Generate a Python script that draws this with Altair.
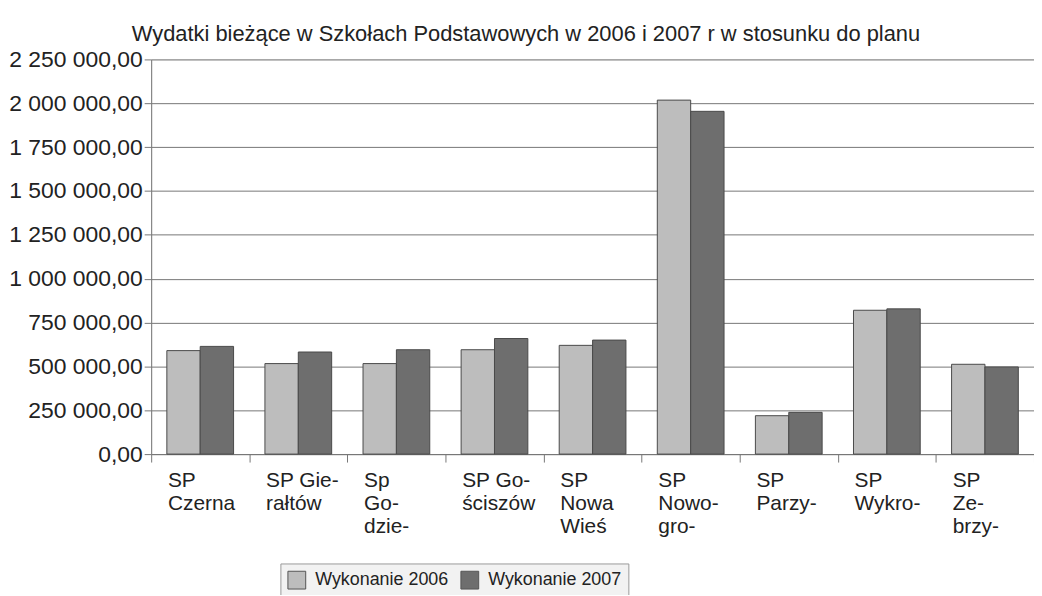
import altair as alt
import pandas as pd

categories = ["SP|Czerna", "SP Gie-|rałtów", "Sp|Go-|dzie-", "SP Go-|ściszów", "SP|Nowa|Wieś",
              "SP|Nowo-|gro-", "SP|Parzy-", "SP|Wykro-", "SP|Ze-|brzy-"]
series = ["Wykonanie 2006", "Wykonanie 2007"]
values_2006 = [590000, 516000, 516000, 595000, 620000, 2018000, 219000, 820000, 512000]
values_2007 = [614000, 582000, 595000, 659000, 650000, 1954000, 238000, 828000, 497000]
y_ticks = [0, 250000, 500000, 750000, 1000000, 1250000, 1500000, 1750000, 2000000, 2250000]

rows = []
for c, a, b in zip(categories, values_2006, values_2007):
    rows.append({"cat": c, "series": series[0], "value": a})
    rows.append({"cat": c, "series": series[1], "value": b})
df = pd.DataFrame(rows)

FONT = "Liberation Sans"

chart = alt.Chart(df).mark_bar(stroke="#4a4a4a", strokeWidth=1).encode(
    x=alt.X("cat:N", sort=categories, title=None,
            scale=alt.Scale(paddingInner=0, paddingOuter=0),
            axis=alt.Axis(tickBand="extent", labelAngle=0, labelAlign="left", labelBaseline="top",
                          labelOffset=-33, labelPadding=8, tickSize=8, tickColor="#777",
                          domainColor="#777", labelFontSize=21, labelColor="#222",
                          labelFont=FONT, labelLineHeight=23, labelLimit=0,
                          labelExpr="split(datum.label, '|')", grid=False)),
    xOffset=alt.XOffset("series:N", sort=series,
                        scale=alt.Scale(paddingInner=0, paddingOuter=0.47)),
    y=alt.Y("value:Q", title=None,
            scale=alt.Scale(domain=[0, 2250000], nice=False),
            axis=alt.Axis(values=y_ticks, tickSize=7, tickColor="#777", domainColor="#777",
                          gridColor="#777", gridWidth=1, labelFontSize=23, labelColor="#222",
                          labelFont=FONT, labelPadding=2,
                          labelExpr="replace(replace(format(datum.value, ',.2f'), regexp(',', 'g'), ' '), '.', ',')")),
    color=alt.Color("series:N", sort=series, title=None,
                    scale=alt.Scale(domain=series, range=["#bdbdbd", "#6e6e6e"]),
                    legend=alt.Legend(orient="none", legendX=130, legendY=507, direction="horizontal",
                                      symbolType="square", symbolSize=320, symbolStrokeColor="#555",
                                      symbolStrokeWidth=1, labelFontSize=18, labelFont=FONT,
                                      labelColor="#222", columnPadding=10, padding=7,
                                      labelOffset=9,
                                      strokeColor="#999", fillColor="#f2f2f2")),
).properties(
    width=888,
    height=397,
    title=alt.TitleParams("Wydatki bieżące w Szkołach Podstawowych w 2006 i 2007 r w stosunku do planu",
                          fontSize=22, font=FONT, fontWeight="normal", color="#222",
                          anchor="middle", dx=-67, dy=11, offset=14),
    padding={"left": 144, "top": 50, "right": 0, "bottom": 140},
    autosize=alt.AutoSizeParams(type="none"),
).configure_view(stroke=None).configure(background="white")

chart.save("out.html", embed_options={"renderer": "svg", "actions": False})
